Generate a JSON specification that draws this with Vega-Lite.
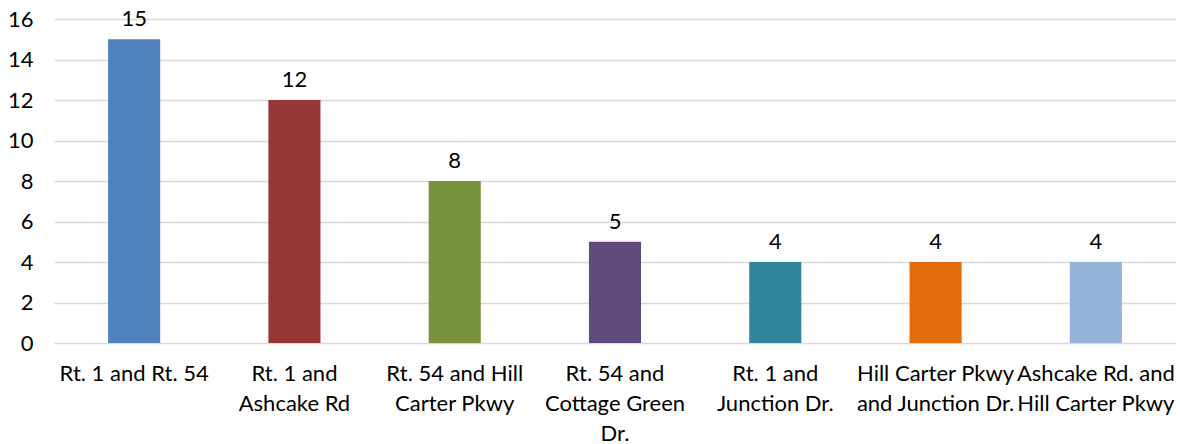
{
  "$schema": "https://vega.github.io/schema/vega-lite/v6.json",
  "width": 1122,
  "height": 324,
  "autosize": {"type": "none"},
  "padding": {"left": 54, "top": 19, "right": 4, "bottom": 101},
  "background": "white",
  "config": {
    "view": {"stroke": null},
    "font": "Lato",
    "axis": {"labelFont": "Lato", "labelFontSize": 22, "labelColor": "#000000"}
  },
  "data": {
    "values": [
      {"location": "Rt. 1 and Rt. 54", "count": 15, "color": "#4F81BD"},
      {"location": "Rt. 1 and|Ashcake Rd", "count": 12, "color": "#953735"},
      {"location": "Rt. 54 and Hill|Carter Pkwy", "count": 8, "color": "#77933C"},
      {"location": "Rt. 54 and|Cottage Green|Dr.", "count": 5, "color": "#604A7B"},
      {"location": "Rt. 1 and|Junction Dr.", "count": 4, "color": "#31859C"},
      {"location": "Hill Carter Pkwy|and Junction Dr.", "count": 4, "color": "#E46C0A"},
      {"location": "Ashcake Rd. and|Hill Carter Pkwy", "count": 4, "color": "#95B3D7"}
    ]
  },
  "encoding": {
    "x": {
      "field": "location",
      "type": "nominal",
      "sort": null,
      "scale": {"paddingInner": 0.675, "paddingOuter": 0.3375},
      "axis": {
        "title": null,
        "labelAngle": 0,
        "domain": false,
        "ticks": false,
        "tickSize": 0,
        "labelPadding": 20,
        "labelLimit": 0,
        "labelLineHeight": 30,
        "labelExpr": "split(datum.value, '|')"
      }
    },
    "y": {
      "field": "count",
      "type": "quantitative",
      "scale": {"domain": [0, 16]},
      "axis": {
        "title": null,
        "values": [0, 2, 4, 6, 8, 10, 12, 14, 16],
        "domain": false,
        "ticks": false,
        "tickSize": 0,
        "labelPadding": 21,
        "grid": true,
        "gridColor": "#d9d9d9",
        "gridWidth": 1.5
      }
    }
  },
  "layer": [
    {
      "mark": {"type": "bar"},
      "encoding": {
        "color": {"field": "color", "type": "nominal", "scale": null, "legend": null}
      }
    },
    {
      "mark": {"type": "text", "baseline": "bottom", "dy": -8, "fontSize": 22, "font": "Lato", "color": "#000000"},
      "encoding": {"text": {"field": "count", "type": "quantitative"}}
    }
  ]
}
